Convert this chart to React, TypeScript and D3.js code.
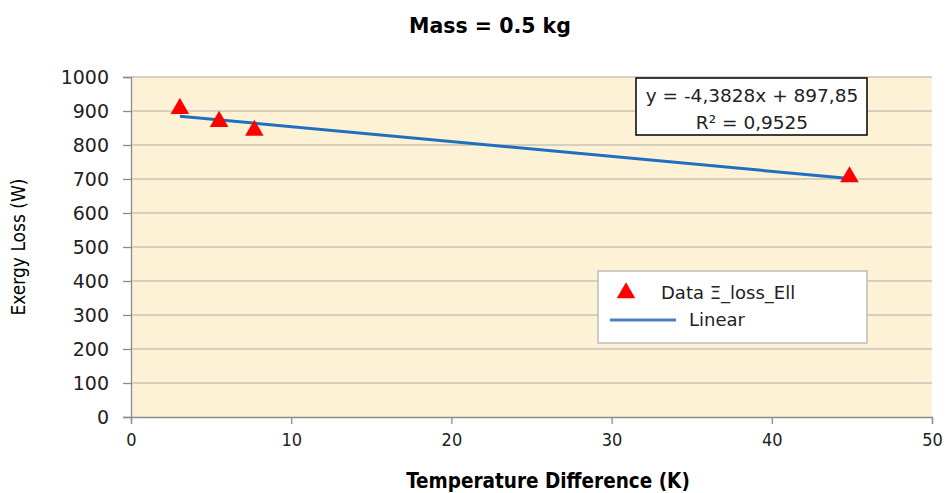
import React, { useEffect, useRef } from 'react'
import * as d3 from 'd3'

// data
const tempDiff = [3.05, 5.5, 7.7, 44.85]
const exergyLoss = [907, 869, 843, 706]
const xTicks = [0, 10, 20, 30, 40, 50]
const yTicks = [0, 100, 200, 300, 400, 500, 600, 700, 800, 900, 1000]
const slope = -4.3828
const intercept = 897.85
const eqText = 'y = -4,3828x + 897,85'
const r2Text = 'R² = 0,9525'
const seriesName = 'Data Ξ_loss_Ell'
const fitName = 'Linear'

const W = 947
const H = 493
const margin = { top: 77, right: 15, bottom: 76, left: 131 }
const wide = 'DejaVu Sans, Verdana, sans-serif'
const narrow = 'DejaVu Sans Condensed, sans-serif'

export default function App() {
  const ref = useRef<SVGSVGElement>(null)

  useEffect(() => {
    const svg = d3.select(ref.current)
    svg.selectAll('*').remove()

    const iw = W - margin.left - margin.right
    const ih = H - margin.top - margin.bottom

    const x = d3.scaleLinear().domain([0, 50]).range([0, iw])
    const y = d3.scaleLinear().domain([0, 1000]).range([ih, 0])

    svg.append('rect').attr('width', W).attr('height', H).attr('fill', '#fff')

    svg.append('text')
      .attr('x', 490).attr('y', 33)
      .attr('text-anchor', 'middle')
      .attr('font-family', wide)
      .attr('font-weight', 'bold')
      .attr('font-size', 20.5)
      .text('Mass = 0.5 kg')

    const g = svg.append('g')
      .attr('transform', 'translate(' + margin.left + ',' + margin.top + ')')

    g.append('rect')
      .attr('width', iw).attr('height', ih)
      .attr('fill', '#fdf1d6')

    // grid lines
    g.append('g')
      .selectAll('line')
      .data(yTicks.filter(d => d > 0))
      .enter().append('line')
        .attr('x1', 0).attr('x2', iw)
        .attr('y1', d => y(d)).attr('y2', d => y(d))
        .attr('stroke', '#c9c3b6')
        .attr('stroke-width', 1.5)

    // y axis
    const yAxis = g.append('g')
      .call(d3.axisLeft(y).tickValues(yTicks).tickFormat(d3.format('d')).tickSize(8).tickPadding(14))
    yAxis.select('.domain').attr('stroke', '#8c8c8c').attr('stroke-width', 1.3)
    yAxis.selectAll('line').attr('stroke', '#8c8c8c').attr('stroke-width', 1.3)
    yAxis.selectAll('text')
      .attr('font-family', wide)
      .attr('font-size', 19)
      .attr('fill', '#222')

    // x axis
    const xAxis = g.append('g')
      .attr('transform', 'translate(0,' + ih + ')')
      .call(d3.axisBottom(x).tickValues(xTicks).tickSize(7).tickPadding(9))
    xAxis.select('.domain').attr('stroke', '#8c8c8c').attr('stroke-width', 1.3)
    xAxis.selectAll('line').attr('stroke', '#8c8c8c').attr('stroke-width', 1.3)
    xAxis.selectAll('text')
      .attr('font-family', narrow)
      .attr('font-stretch', 'condensed')
      .attr('font-size', 18)
      .attr('fill', '#222')

    // axis titles
    svg.append('text')
      .attr('transform', 'translate(25,' + (margin.top + ih / 2) + ') rotate(-90)')
      .attr('text-anchor', 'middle')
      .attr('font-family', narrow)
      .attr('font-stretch', 'condensed')
      .attr('font-size', 19)
      .text('Exergy Loss (W)')

    svg.append('text')
      .attr('x', 548).attr('y', 488)
      .attr('text-anchor', 'middle')
      .attr('font-family', narrow)
      .attr('font-stretch', 'condensed')
      .attr('font-weight', 'bold')
      .attr('font-size', 20.5)
      .text('Temperature Difference  (K)')

    // trend line
    const xMin = d3.min(tempDiff) as number
    const xMax = d3.max(tempDiff) as number
    g.append('line')
      .attr('x1', x(xMin)).attr('y1', y(slope * xMin + intercept))
      .attr('x2', x(xMax)).attr('y2', y(slope * xMax + intercept))
      .attr('stroke', '#1f6fbf')
      .attr('stroke-width', 3)

    // markers
    const tri = d3.symbol().type(d3.symbolTriangle).size(150)
    g.selectAll('.pt')
      .data(tempDiff.map((d, i) => ({ x: d, y: exergyLoss[i] })))
      .enter().append('path')
        .attr('class', 'pt')
        .attr('d', tri)
        .attr('transform', d => 'translate(' + x(d.x) + ',' + y(d.y) + ')')
        .attr('fill', '#ff0000')

    // equation box
    const eq = svg.append('g').attr('transform', 'translate(636,78)')
    eq.append('rect')
      .attr('width', 231).attr('height', 57)
      .attr('fill', '#fff')
      .attr('stroke', '#000').attr('stroke-width', 1.5)
    eq.append('text')
      .attr('x', 116).attr('y', 24)
      .attr('text-anchor', 'middle')
      .attr('font-family', wide)
      .attr('font-size', 18.5)
      .attr('fill', '#222')
      .text(eqText)
    eq.append('text')
      .attr('x', 116).attr('y', 51)
      .attr('text-anchor', 'middle')
      .attr('font-family', wide)
      .attr('font-size', 18.5)
      .attr('fill', '#222')
      .text(r2Text)

    // legend
    const lg = svg.append('g').attr('transform', 'translate(598,271)')
    lg.append('rect')
      .attr('width', 269).attr('height', 72)
      .attr('fill', '#fff')
      .attr('stroke', '#bdbdbd').attr('stroke-width', 1.5)
    lg.append('path')
      .attr('d', tri)
      .attr('transform', 'translate(28,22)')
      .attr('fill', '#ff0000')
    lg.append('text')
      .attr('x', 63).attr('y', 28)
      .attr('font-family', wide)
      .attr('font-size', 18)
      .attr('fill', '#222')
      .text(seriesName)
    lg.append('line')
      .attr('x1', 12).attr('x2', 78)
      .attr('y1', 49).attr('y2', 49)
      .attr('stroke', '#4a7fc1')
      .attr('stroke-width', 3)
    lg.append('text')
      .attr('x', 91).attr('y', 55)
      .attr('font-family', wide)
      .attr('font-size', 18)
      .attr('fill', '#222')
      .text(fitName)
  }, [])

  return (
    <svg ref={ref} width={W} height={H}
      style={{ position: 'absolute', left: 0, top: 0 }} />
  )
}
